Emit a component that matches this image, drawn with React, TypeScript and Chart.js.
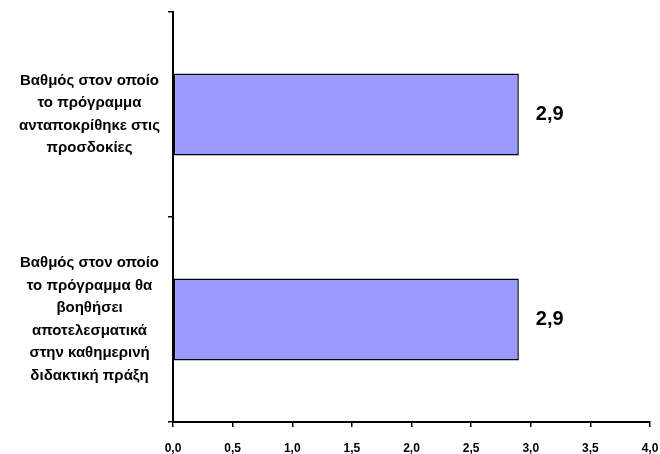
import React, { useEffect, useRef } from "react";
import { Chart, registerables } from "chart.js";

Chart.register(...registerables);

const categories: string[][] = [
  ["Βαθμός στον οποίο", "το πρόγραμμα", "ανταποκρίθηκε στις", "προσδοκίες"],
  ["Βαθμός στον οποίο", "το πρόγραμμα θα", "βοηθήσει", "αποτελεσματικά", "στην καθημερινή", "διδακτική πράξη"],
];
const values: number[] = [2.9, 2.9];
const valueLabels: string[] = ["2,9", "2,9"];
const xMin = 0;
const xMax = 4;
const xStep = 0.5;

const FONT = "'Liberation Sans', Arial, sans-serif";

const valueLabelPlugin = {
  id: "valueLabels",
  afterDatasetsDraw(chart: any) {
    const ctx = chart.ctx;
    const meta = chart.getDatasetMeta(0);
    ctx.save();
    ctx.font = `bold 20px ${FONT}`;
    ctx.fillStyle = "#000";
    ctx.textAlign = "left";
    ctx.textBaseline = "middle";
    meta.data.forEach((el: any, i: number) => {
      ctx.fillText(valueLabels[i], el.x + 17, el.y);
    });
    ctx.restore();
  },
};

export default function App() {
  const ref = useRef<HTMLCanvasElement | null>(null);
  useEffect(() => {
    if (!ref.current) return;
    const chart = new Chart(ref.current, {
      type: "bar",
      data: {
        labels: categories,
        datasets: [
          {
            data: values,
            backgroundColor: "#9999FF",
            borderColor: "#000",
            borderWidth: 1.5,
            borderSkipped: false,
            barPercentage: 0.4,
            categoryPercentage: 1,
          },
        ],
      },
      options: {
        indexAxis: "y",
        animation: false,
        responsive: true,
        maintainAspectRatio: false,
        layout: { padding: { top: 12, right: 10, left: 0, bottom: 0 } },
        plugins: {
          legend: { display: false },
          tooltip: { enabled: false },
        },
        scales: {
          x: {
            min: xMin,
            max: xMax,
            afterFit: (s: any) => {
              s.height = 32;
              s.paddingLeft = 0;
              s.paddingRight = 0;
            },
            ticks: {
              stepSize: xStep,
              color: "#000",
              padding: 14,
              font: { family: FONT, size: 12, weight: "bold" },
              callback: (v: any) => Number(v).toFixed(1).replace(".", ","),
            },
            grid: {
              drawOnChartArea: false,
              drawTicks: true,
              tickLength: 5,
              color: "#000",
              lineWidth: 1.5,
            },
            border: { color: "#000", width: 2 },
          },
          y: {
            afterFit: (s: any) => {
              s.width = 173;
              s.paddingTop = 0;
              s.paddingBottom = 0;
            },
            ticks: {
              color: "#000",
              padding: 8,
              crossAlign: "center",
              font: { family: FONT, size: 15, weight: "bold", lineHeight: 1.5 },
            },
            grid: {
              drawOnChartArea: false,
              drawTicks: true,
              tickLength: 5,
              color: "#000",
              lineWidth: 1.5,
              offset: true,
            },
            border: { color: "#000", width: 2 },
          },
        },
      },
      plugins: [valueLabelPlugin],
    } as any);
    return () => chart.destroy();
  }, []);
  return (
    <div style={{ position: "absolute", left: 0, top: 0, width: 660, height: 454, background: "#fff" }}>
      <canvas ref={ref} />
    </div>
  );
}
